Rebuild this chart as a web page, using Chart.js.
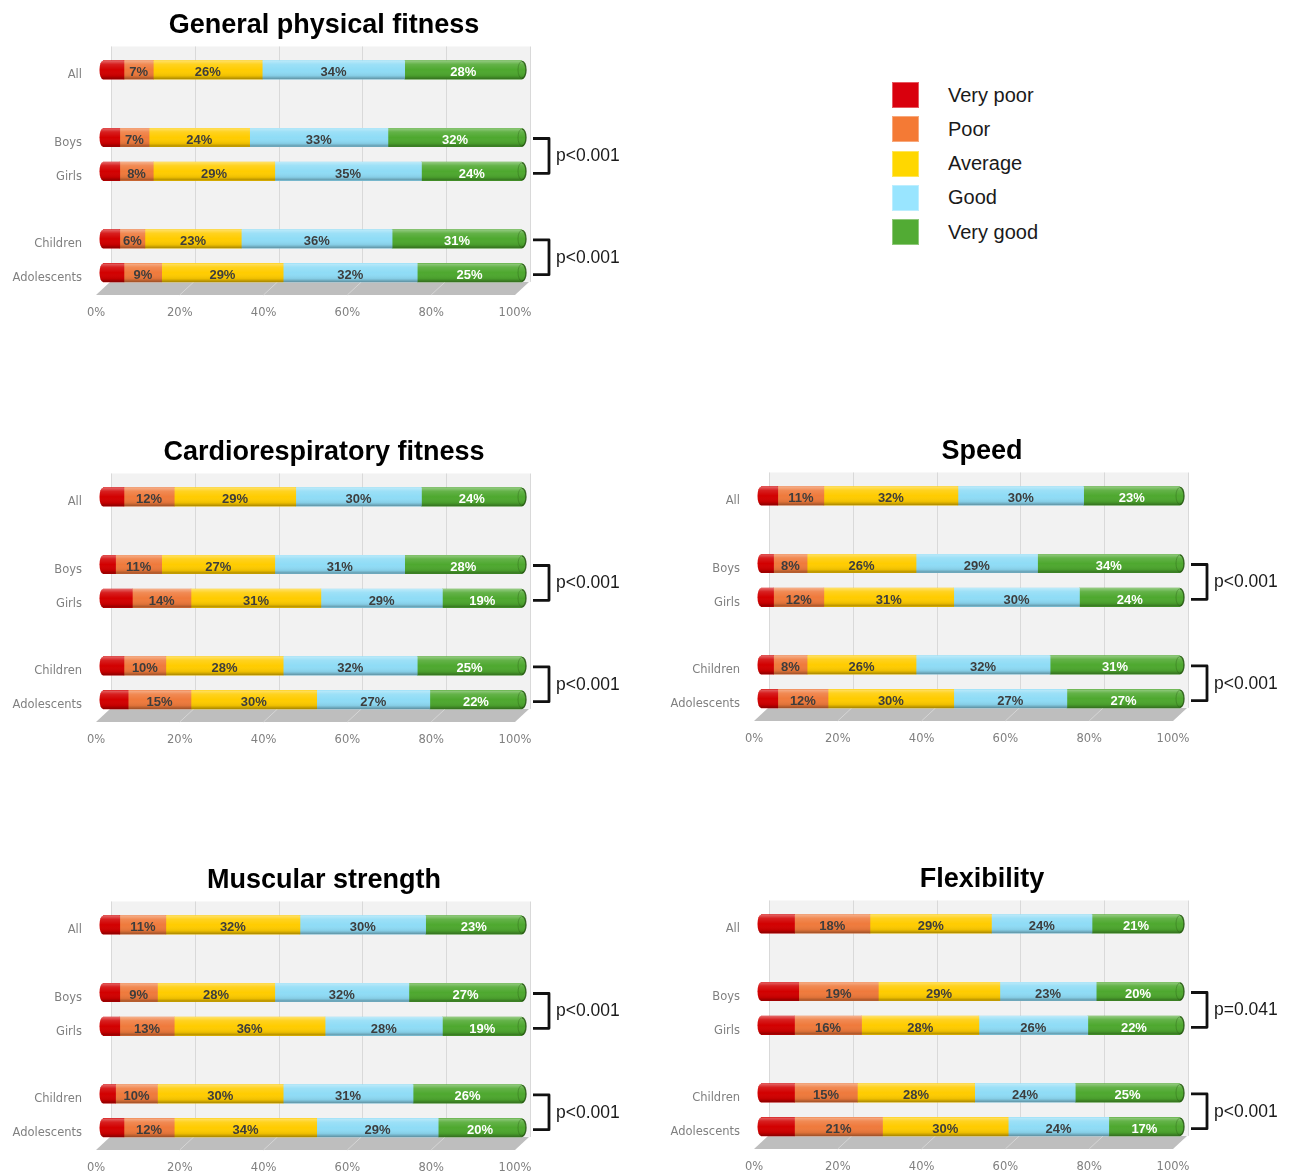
<!DOCTYPE html>
<html>
<head>
<meta charset="utf-8">
<title>Fitness self-assessment</title>
<script src="https://cdn.jsdelivr.net/npm/chart.js@4.4.1/dist/chart.umd.min.js"></script>
<style>
  html, body { margin: 0; padding: 0; background: #ffffff; width: 1296px; height: 1175px; overflow: hidden; }
  canvas.panel { position: absolute; }
  #legend { position: absolute; left: 892px; top: 78px; font-family: "Liberation Sans", Arial, sans-serif; font-size: 20px; color: #1a1a1a; }
  #legend .item { display: flex; align-items: center; height: 34.25px; }
  #legend .swatch { width: 27px; height: 26px; margin-right: 29px; box-sizing: border-box; border: 1px solid rgba(255,255,255,0.35); }
</style>
</head>
<body>
<div id="legend"></div>
<canvas id="c1" class="panel" width="640" height="330"></canvas>
<canvas id="c2" class="panel" width="640" height="330"></canvas>
<canvas id="c3" class="panel" width="640" height="330"></canvas>
<canvas id="c4" class="panel" width="640" height="330"></canvas>
<canvas id="c5" class="panel" width="640" height="330"></canvas>
<script>
// ---- Data ----
const levels = ['Very poor', 'Poor', 'Average', 'Good', 'Very good'];
const groups = ['All', 'Boys', 'Girls', 'Children', 'Adolescents'];
const rowLabels = ['All', '', 'Boys', 'Girls', '', 'Children', 'Adolescents'];
const groupRows = [0, 2, 3, 5, 6];
const xTicks = [0, 20, 40, 60, 80, 100];

// General physical fitness (% per group)
const generalVeryPoor = [5, 4, 4, 4, 5];
const generalPoor = [7, 7, 8, 6, 9];
const generalAverage = [26, 24, 29, 23, 29];
const generalGood = [34, 33, 35, 36, 32];
const generalVeryGood = [28, 32, 24, 31, 25];
const generalP = ['p<0.001', 'p<0.001'];

// Cardiorespiratory fitness
const cardioVeryPoor = [5, 3, 7, 5, 6];
const cardioPoor = [12, 11, 14, 10, 15];
const cardioAverage = [29, 27, 31, 28, 30];
const cardioGood = [30, 31, 29, 32, 27];
const cardioVeryGood = [24, 28, 19, 25, 22];
const cardioP = ['p<0.001', 'p<0.001'];

// Speed
const speedVeryPoor = [4, 3, 3, 3, 4];
const speedPoor = [11, 8, 12, 8, 12];
const speedAverage = [32, 26, 31, 26, 30];
const speedGood = [30, 29, 30, 32, 27];
const speedVeryGood = [23, 34, 24, 31, 27];
const speedP = ['p<0.001', 'p<0.001'];

// Muscular strength
const strengthVeryPoor = [4, 4, 4, 3, 5];
const strengthPoor = [11, 9, 13, 10, 12];
const strengthAverage = [32, 28, 36, 30, 34];
const strengthGood = [30, 32, 28, 31, 29];
const strengthVeryGood = [23, 27, 19, 26, 20];
const strengthP = ['p<0.001', 'p<0.001'];

// Flexibility
const flexVeryPoor = [8, 9, 8, 8, 8];
const flexPoor = [18, 19, 16, 15, 21];
const flexAverage = [29, 29, 28, 28, 30];
const flexGood = [24, 23, 26, 24, 24];
const flexVeryGood = [21, 20, 22, 25, 17];
const flexP = ['p=0.041', 'p<0.001'];

// ---- Styling ----
const barColors = ['#d20000', '#ef7a3c', '#ffcc00', '#8fdcf6', '#4ea82f'];
const legendColors = ['#d9000d', '#f47a35', '#ffd700', '#99e5ff', '#52ab34'];
const labelColors = [null, '#3d3d3d', '#3d3d3d', '#3d3d3d', '#ffffff'];
const bracketPairs = [[2, 3], [5, 6]];

const panels = [
  { canvas: 'c1', title: 'General physical fitness', series: [generalVeryPoor, generalPoor, generalAverage, generalGood, generalVeryGood], p: generalP, originX: 103, allY: 69.5, titleX: 324 },
  { canvas: 'c2', title: 'Cardiorespiratory fitness', series: [cardioVeryPoor, cardioPoor, cardioAverage, cardioGood, cardioVeryGood], p: cardioP, originX: 103, allY: 497, titleX: 324 },
  { canvas: 'c3', title: 'Speed', series: [speedVeryPoor, speedPoor, speedAverage, speedGood, speedVeryGood], p: speedP, originX: 761, allY: 496, titleX: 982 },
  { canvas: 'c4', title: 'Muscular strength', series: [strengthVeryPoor, strengthPoor, strengthAverage, strengthGood, strengthVeryGood], p: strengthP, originX: 103, allY: 925, titleX: 324 },
  { canvas: 'c5', title: 'Flexibility', series: [flexVeryPoor, flexPoor, flexAverage, flexGood, flexVeryGood], p: flexP, originX: 761, allY: 924, titleX: 982 }
];

// spread group values onto the axis rows (blank rows separate the groups)
function toRows(values) {
  const rows = rowLabels.map(() => null);
  values.forEach((v, i) => { rows[groupRows[i]] = v; });
  return rows;
}

// ---- Legend ----
const legendEl = document.getElementById('legend');
levels.forEach((name, i) => {
  const item = document.createElement('div');
  item.className = 'item';
  const sw = document.createElement('div');
  sw.className = 'swatch';
  sw.style.background = legendColors[i];
  const tx = document.createElement('span');
  tx.textContent = name;
  item.appendChild(sw);
  item.appendChild(tx);
  legendEl.appendChild(item);
});

// ---- 3D-look decorations: back wall, floor, cylinder shading, labels, brackets ----
const Y_AXIS_W = 103;
const PAD_TOP = 50;

const panelDecor = {
  id: 'panelDecor',
  beforeDatasetsDraw(chart) {
    const { ctx, chartArea: a, scales: { x } } = chart;
    const wallTop = a.top - 6.5;
    const floorTop = a.bottom - 7.7;
    const floorBot = a.bottom + 5.3;
    ctx.save();
    // back wall
    const wl = x.getPixelForValue(0) + 8;
    const wr = x.getPixelForValue(100) + 8;
    ctx.fillStyle = '#f2f2f2';
    ctx.fillRect(wl, wallTop, wr - wl, floorTop - wallTop);
    ctx.strokeStyle = '#d9d9d9';
    ctx.lineWidth = 1;
    xTicks.forEach(v => {
      const px = Math.round(x.getPixelForValue(v) + 8) + 0.5;
      ctx.beginPath();
      ctx.moveTo(px, wallTop);
      ctx.lineTo(px, floorTop);
      ctx.stroke();
    });
    // floor
    ctx.fillStyle = '#bebebe';
    ctx.beginPath();
    ctx.moveTo(x.getPixelForValue(0) + 7, floorTop);
    ctx.lineTo(x.getPixelForValue(100) + 7, floorTop);
    ctx.lineTo(x.getPixelForValue(100) - 7, floorBot);
    ctx.lineTo(x.getPixelForValue(0) - 7, floorBot);
    ctx.closePath();
    ctx.fill();
    ctx.strokeStyle = '#d6d6d6';
    ctx.lineWidth = 1;
    xTicks.slice(1, -1).forEach(v => {
      ctx.beginPath();
      ctx.moveTo(x.getPixelForValue(v) + 7, floorTop);
      ctx.lineTo(x.getPixelForValue(v) - 7, floorBot);
      ctx.stroke();
    });
    ctx.restore();
  },
  afterDatasetsDraw(chart, args, opts) {
    const { ctx, chartArea: a } = chart;
    const sets = chart.data.datasets;
    const metas = sets.map((d, i) => chart.getDatasetMeta(i));
    const first = metas[0];
    const last = metas[metas.length - 1];
    ctx.save();
    first.data.forEach((el0, i) => {
      if (sets[0].data[i] == null) return;
      const p0 = el0.getProps(['x', 'y', 'base', 'height'], true);
      const pe = last.data[i].getProps(['x', 'y', 'base', 'height'], true);
      const left = p0.base;
      const right = pe.x;
      const h = p0.height;
      const yc = p0.y;
      const t = yc - h / 2;
      // rounded left end
      ctx.fillStyle = barColors[0];
      ctx.beginPath();
      ctx.ellipse(left, yc, 3.5, h / 2, 0, Math.PI / 2, Math.PI * 1.5);
      ctx.fill();
      // rounded right end
      ctx.fillStyle = barColors[4];
      ctx.beginPath();
      ctx.ellipse(right, yc, 4, h / 2, 0, -Math.PI / 2, Math.PI / 2);
      ctx.fill();
      // cylinder shading
      const g = ctx.createLinearGradient(0, t, 0, t + h);
      g.addColorStop(0, 'rgba(255,255,255,0.40)');
      g.addColorStop(0.2, 'rgba(255,255,255,0.12)');
      g.addColorStop(0.5, 'rgba(255,255,255,0)');
      g.addColorStop(0.82, 'rgba(0,0,0,0.07)');
      g.addColorStop(1, 'rgba(0,0,0,0.34)');
      ctx.fillStyle = g;
      ctx.beginPath();
      ctx.ellipse(left, yc, 3.5, h / 2, 0, Math.PI / 2, Math.PI * 1.5);
      ctx.lineTo(right, t);
      ctx.ellipse(right, yc, 4, h / 2, 0, -Math.PI / 2, Math.PI / 2);
      ctx.closePath();
      ctx.fill();
      // end face rim
      ctx.strokeStyle = 'rgba(38,86,18,0.85)';
      ctx.lineWidth = 1.4;
      ctx.beginPath();
      ctx.ellipse(right, yc, 4, h / 2 - 0.7, 0, -Math.PI / 2, Math.PI / 2);
      ctx.stroke();
      ctx.strokeStyle = 'rgba(38,86,18,0.35)';
      ctx.lineWidth = 1;
      ctx.beginPath();
      ctx.ellipse(right, yc, 4, h / 2 - 0.7, 0, Math.PI / 2, Math.PI * 1.5);
      ctx.stroke();
    });

    // value labels
    ctx.font = 'bold 13px "Liberation Sans", Arial, sans-serif';
    ctx.textAlign = 'center';
    ctx.textBaseline = 'middle';
    for (let d = 1; d < sets.length; d++) {
      metas[d].data.forEach((el, i) => {
        const v = sets[d].data[i];
        if (v == null) return;
        const p = el.getProps(['x', 'y', 'base'], true);
        ctx.fillStyle = labelColors[d];
        ctx.fillText(v + '%', (p.x + p.base) / 2, p.y + 3);
      });
    }

    // significance brackets
    const yS = chart.scales.y;
    bracketPairs.forEach(([r1, r2], k) => {
      const y1 = yS.getPixelForValue(r1) + 1;
      const y2 = yS.getPixelForValue(r2) + 2;
      const x0 = a.right + 11;
      const x1 = a.right + 27;
      ctx.strokeStyle = '#111111';
      ctx.lineWidth = 2.8;
      ctx.lineJoin = 'round';
      ctx.beginPath();
      ctx.moveTo(x0, y1);
      ctx.lineTo(x1, y1);
      ctx.lineTo(x1, y2);
      ctx.lineTo(x0, y2);
      ctx.stroke();
      ctx.font = '17.5px "Liberation Sans", Arial, sans-serif';
      ctx.fillStyle = '#1a1a1a';
      ctx.textAlign = 'left';
      ctx.textBaseline = 'middle';
      ctx.fillText(opts.pValues[k], a.right + 34, (y1 + y2) / 2 + 0.5);
    });

    // panel title
    ctx.font = 'bold 27px "Liberation Sans", Arial, sans-serif';
    ctx.fillStyle = '#000000';
    ctx.textAlign = 'center';
    ctx.textBaseline = 'alphabetic';
    ctx.fillText(opts.title, a.left + opts.titleDx, a.top - 19.6);
    ctx.restore();
  }
};

const tickFont = { family: '"DejaVu Sans", sans-serif', size: 11.5 };

panels.forEach(pn => {
  const cv = document.getElementById(pn.canvas);
  cv.style.left = (pn.originX - Y_AXIS_W) + 'px';
  cv.style.top = (pn.allY - 16.9 - PAD_TOP) + 'px';

  new Chart(cv, {
    type: 'bar',
    data: {
      labels: rowLabels,
      datasets: levels.map((name, i) => ({
        label: name,
        data: toRows(pn.series[i]),
        backgroundColor: barColors[i],
        borderWidth: 0,
        barThickness: 18.5
      }))
    },
    options: {
      indexAxis: 'y',
      responsive: false,
      animation: false,
      devicePixelRatio: 1,
      events: [],
      layout: { padding: { left: 0, top: PAD_TOP, right: 118, bottom: 3.4 } },
      scales: {
        x: {
          type: 'linear',
          stacked: true,
          min: 0,
          max: 100,
          afterBuildTicks: s => { s.ticks = xTicks.map(v => ({ value: v })); },
          afterFit: s => { s.height = 40; },
          grid: { display: false, drawTicks: false },
          border: { display: false },
          ticks: {
            padding: 17,
            labelOffset: -7,
            color: '#808080',
            font: tickFont,
            maxRotation: 0,
            autoSkip: false,
            callback: v => v + '%'
          }
        },
        y: {
          stacked: true,
          afterFit: s => { s.width = Y_AXIS_W; },
          grid: { display: false, drawTicks: false },
          border: { display: false },
          ticks: {
            padding: 21,
            labelOffset: 5.5,
            color: '#808080',
            font: tickFont,
            autoSkip: false
          }
        }
      },
      plugins: {
        legend: { display: false },
        tooltip: { enabled: false },
        title: { display: false },
        panelDecor: { title: pn.title, pValues: pn.p, titleDx: pn.titleX - pn.originX }
      }
    },
    plugins: [panelDecor]
  });
});
</script>
</body>
</html>
